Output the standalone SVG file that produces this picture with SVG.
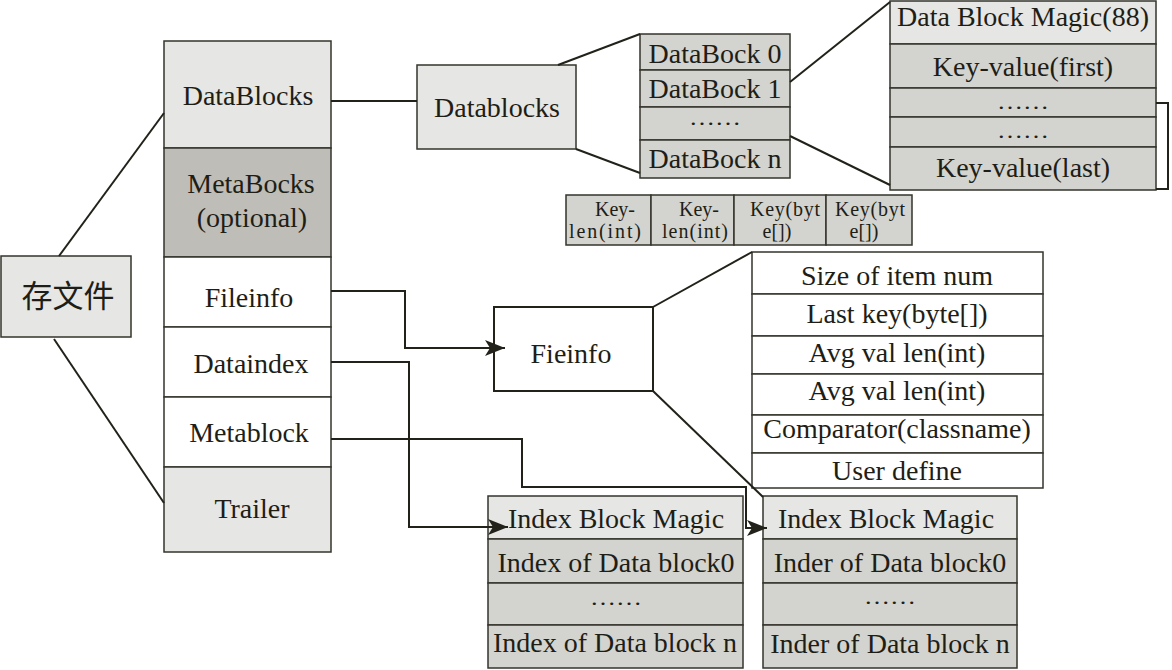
<svg xmlns="http://www.w3.org/2000/svg" width="1172" height="670" viewBox="0 0 1172 670">
<defs>
<style>
.t{font-family:"Liberation Serif","Noto Sans CJK SC",serif;font-size:28px;fill:#1e1e16;text-anchor:middle}
.dots{font-family:"Liberation Serif","Noto Sans CJK SC",serif;font-size:22px;fill:#1e1e16;text-anchor:middle}
.s{font-family:"Liberation Serif","Noto Sans CJK SC",serif;font-size:20px;fill:#1e1e16;text-anchor:middle}
.cjk{font-family:"Noto Sans CJK SC","Liberation Serif",sans-serif;font-size:31px;fill:#1e1e16;text-anchor:middle}
.b{stroke:#35352c;stroke-width:1.5}
.l1{fill:#e6e6e4}
.m{fill:#d3d3cf}
.d{fill:#bebdb7}
.w{fill:#ffffff}
.c{fill:none;stroke:#22221a;stroke-width:2}
</style>
<marker id="ah" markerUnits="userSpaceOnUse" markerWidth="22" markerHeight="18" refX="20" refY="8" orient="auto">
<path d="M0,0 L20,8 L0,16 L5,8 Z" fill="#22221a"/>
</marker>
</defs>
<rect width="1172" height="670" fill="#ffffff"/>

<g id="node-cunwenjian">
<rect class="b l1" x="1" y="256" width="130" height="81"/>
<text class="cjk" x="68" y="307">存文件</text>
</g>

<g id="node-filecolumn">
<rect class="b l1" x="164" y="41" width="167" height="107"/>
<text class="t" x="248" y="105">DataBlocks</text>
<rect class="b d" x="164" y="148" width="167" height="109"/>
<text class="t" x="251" y="193">MetaBocks</text>
<text class="t" x="252" y="227">(optional)</text>
<rect class="b w" x="164" y="257" width="167" height="70"/>
<text class="t" x="249" y="307">Fileinfo</text>
<rect class="b w" x="164" y="327" width="167" height="70"/>
<text class="t" x="251" y="373">Dataindex</text>
<rect class="b w" x="164" y="397" width="167" height="70"/>
<text class="t" x="249" y="442">Metablock</text>
<rect class="b l1" x="164" y="467" width="167" height="85"/>
<text class="t" x="252" y="518">Trailer</text>
</g>

<g id="node-datablocks">
<rect class="b l1" x="417" y="65" width="159" height="84"/>
<text class="t" x="497" y="117">Datablocks</text>
</g>

<g id="node-databock-stack">
<rect class="b m" x="640" y="34" width="150" height="36"/>
<text class="t" x="715" y="63">DataBock 0</text>
<rect class="b m" x="640" y="70" width="150" height="37"/>
<text class="t" x="715" y="98">DataBock 1</text>
<rect class="b m" x="640" y="107" width="150" height="33"/>
<text class="dots" x="715" y="125" textLength="52" lengthAdjust="spacingAndGlyphs">……</text>
<rect class="b m" x="640" y="140" width="150" height="38"/>
<text class="t" x="715" y="168">DataBock n</text>
</g>

<g id="node-datablock-detail">
<rect class="b l1" x="890" y="1" width="266" height="43"/>
<text class="t" x="1023" y="26">Data Block Magic(88)</text>
<rect class="b m" x="890" y="44" width="266" height="44"/>
<text class="t" x="1023" y="76">Key-value(first)</text>
<rect class="b m" x="890" y="88" width="266" height="29"/>
<text class="dots" x="1023" y="109" textLength="52" lengthAdjust="spacingAndGlyphs">……</text>
<rect class="b m" x="890" y="117" width="266" height="30"/>
<text class="dots" x="1023" y="138" textLength="52" lengthAdjust="spacingAndGlyphs">……</text>
<rect class="b m" x="890" y="147" width="266" height="43"/>
<text class="t" x="1023" y="177">Key-value(last)</text>
</g>

<g id="node-keyvalue-format">
<rect class="b m" x="566" y="195" width="85" height="50"/>
<rect class="b m" x="651" y="195" width="83" height="50"/>
<rect class="b m" x="734" y="195" width="92" height="50"/>
<rect class="b m" x="826" y="195" width="86" height="50"/>
<text class="s" x="615" y="216">Key-</text>
<text class="s" x="605" y="238" textLength="72" lengthAdjust="spacing">len(int)</text>
<text class="s" x="699" y="216">Key-</text>
<text class="s" x="695" y="238" textLength="66" lengthAdjust="spacing">len(int)</text>
<text class="s" x="785" y="216" textLength="70" lengthAdjust="spacing">Key(byt</text>
<text class="s" x="777" y="238">e[])</text>
<text class="s" x="870" y="216" textLength="70" lengthAdjust="spacing">Key(byt</text>
<text class="s" x="864" y="238">e[])</text>
</g>

<g id="node-fieinfo">
<rect class="w" x="494" y="307" width="159" height="84" stroke="#22221a" stroke-width="2"/>
<text class="t" x="571" y="363">Fieinfo</text>
</g>

<g id="node-fileinfo-table">
<rect class="b w" x="752" y="252" width="291" height="42"/>
<text class="t" x="897" y="285">Size of item num</text>
<rect class="b w" x="752" y="294" width="291" height="42"/>
<text class="t" x="897" y="323">Last key(byte[])</text>
<rect class="b w" x="752" y="336" width="291" height="38"/>
<text class="t" x="897" y="362">Avg val len(int)</text>
<rect class="b w" x="752" y="374" width="291" height="41"/>
<text class="t" x="897" y="400">Avg val len(int)</text>
<rect class="b w" x="752" y="415" width="291" height="38"/>
<text class="t" x="897" y="438">Comparator(classname)</text>
<rect class="b w" x="752" y="453" width="291" height="35"/>
<text class="t" x="897" y="480">User define</text>
</g>

<g id="node-dataindex-block">
<rect class="b l1" x="488" y="496" width="255" height="43"/>
<text class="t" x="616" y="528">Index Block Magic</text>
<rect class="b m" x="488" y="539" width="255" height="44"/>
<text class="t" x="616" y="572">Index of Data block0</text>
<rect class="b m" x="488" y="583" width="255" height="42"/>
<text class="dots" x="616" y="605" textLength="52" lengthAdjust="spacingAndGlyphs">……</text>
<rect class="b m" x="488" y="625" width="255" height="43"/>
<text class="t" x="615" y="652">Index of Data block n</text>
</g>

<g id="node-metaindex-block">
<rect class="b l1" x="763" y="496" width="254" height="43"/>
<text class="t" x="886" y="528">Index Block Magic</text>
<rect class="b m" x="763" y="539" width="254" height="44"/>
<text class="t" x="890" y="572">Inder of Data block0</text>
<rect class="b m" x="763" y="583" width="254" height="42"/>
<text class="dots" x="890" y="604" textLength="52" lengthAdjust="spacingAndGlyphs">……</text>
<rect class="b m" x="763" y="625" width="254" height="43"/>
<text class="t" x="890" y="653">Inder of Data block n</text>
</g>

<g id="connectors">
<line class="c" x1="59" y1="256" x2="164" y2="113"/>
<line class="c" x1="54" y1="339" x2="164" y2="503"/>
<line class="c" x1="331" y1="101" x2="417" y2="101"/>
<line class="c" x1="558" y1="65" x2="640" y2="34"/>
<line class="c" x1="576" y1="149" x2="640" y2="173"/>
<line class="c" x1="790" y1="82" x2="890" y2="2"/>
<line class="c" x1="790" y1="136" x2="890" y2="185"/>
<path class="c" d="M1156,103 H1168 V189 H1156"/>
<path class="c" d="M331,291 H405 V348 H505" marker-end="url(#ah)"/>
<line class="c" x1="653" y1="307" x2="752" y2="252"/>
<line class="c" x1="653" y1="391" x2="763" y2="497"/>
<path class="c" d="M331,362 H409 V527 H508" marker-end="url(#ah)"/>
<path class="c" d="M331,439 H522 V487 H746 V528 H767" marker-end="url(#ah)"/>
</g>
</svg>
